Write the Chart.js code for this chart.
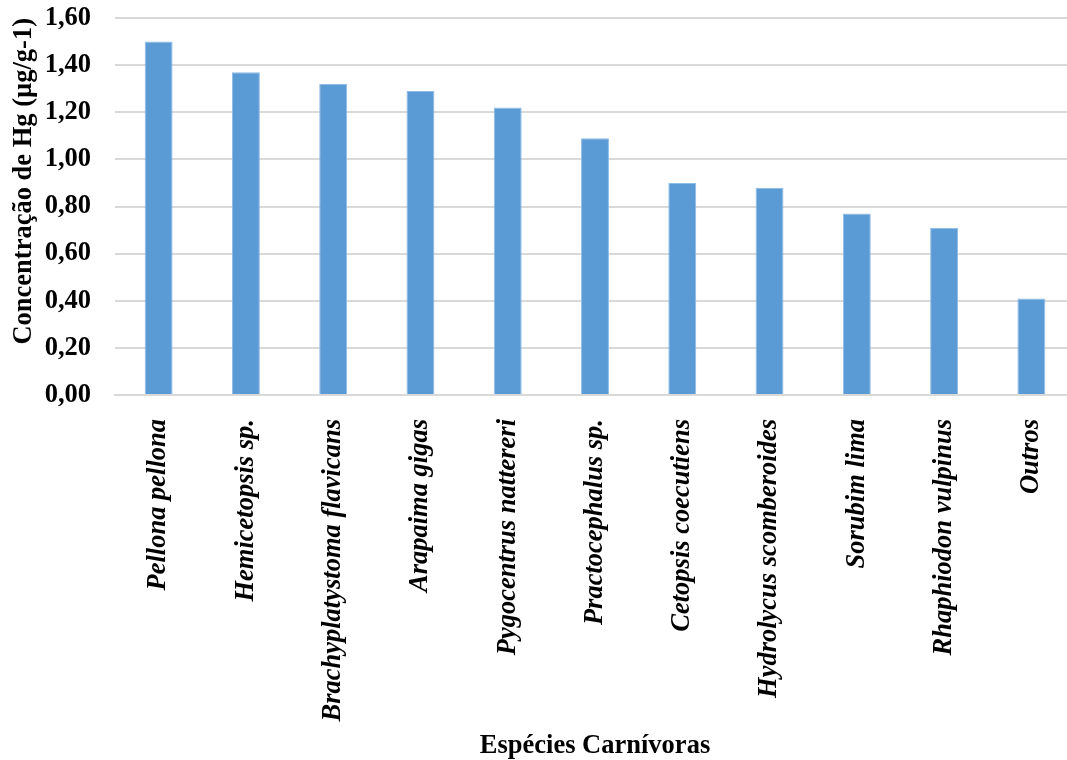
<!DOCTYPE html>
<html>
<head>
<meta charset="utf-8">
<script src="https://cdn.jsdelivr.net/npm/chart.js@4"></script>
<style>
html,body{margin:0;padding:0;background:#fff;overflow:hidden;}
#wrap{width:1067px;height:760px;overflow:hidden;}
</style>
</head>
<body>
<div id="wrap"><canvas id="c" width="1075" height="762"></canvas></div>
<script>
const categories = ["Pellona pellona","Hemicetopsis sp.","Brachyplatystoma flavicans","Arapaima gigas","Pygocentrus nattereri","Practocephalus sp.","Cetopsis coecutiens","Hydrolycus scomberoides","Sorubim lima","Rhaphiodon vulpinus","Outros"];
const values = [1.50,1.37,1.32,1.29,1.22,1.09,0.90,0.88,0.77,0.71,0.41];
const yTitle = "Concentração de Hg (µg/g-1)";
const xTitle = "Espécies Carnívoras";

const FONT = "'Liberation Serif','Times New Roman',serif";
new Chart(document.getElementById('c'), {
  type: 'bar',
  data: {
    labels: categories,
    datasets: [{
      data: values,
      backgroundColor: '#5b9bd5',
      borderColor: '#8fbbe6',
      borderWidth: 1,
      categoryPercentage: 1,
      barPercentage: 0.32
    }]
  },
  options: {
    responsive: false,
    animation: false,
    layout: {padding: {left: 8, right: 0, top: 18, bottom: 0}},
    plugins: {legend: {display: false}, tooltip: {enabled: false}},
    scales: {
      x: {
        afterFit: s => { s.paddingLeft = 0; s.paddingRight = 0; s.paddingTop = 0; s.height -= 5; },
        grid: {display: false, drawTicks: false},
        border: {display: true, color: '#d9d9d9', width: 2},
        ticks: {
          color: '#000', minRotation: 90, maxRotation: 90, autoSkip: false, padding: 24,
          font: {family: FONT, size: 26.5, weight: 'bold', style: 'italic'}
        },
        title: {display: true, text: xTitle, color: '#000', padding: {top: 3, bottom: 0},
          font: {family: FONT, size: 26.5, weight: 'bold'}}
      },
      y: {
        min: 0, max: 1.6,
        afterFit: s => { s.width = 107; s.paddingTop = 0; s.paddingBottom = 0; },
        grid: {color: '#d9d9d9', lineWidth: 2, drawTicks: false},
        border: {display: false},
        ticks: {
          stepSize: 0.2, color: '#000', padding: 24,
          font: {family: FONT, size: 26.5, weight: 'bold'},
          callback: v => v.toFixed(2).replace('.', ',')
        },
        title: {display: true, text: yTitle, color: '#000', align: 'end', padding: {top: 0, bottom: 0},
          font: {family: FONT, size: 26.5, weight: 'bold'}}
      }
    }
  }
});
</script>
</body>
</html>
